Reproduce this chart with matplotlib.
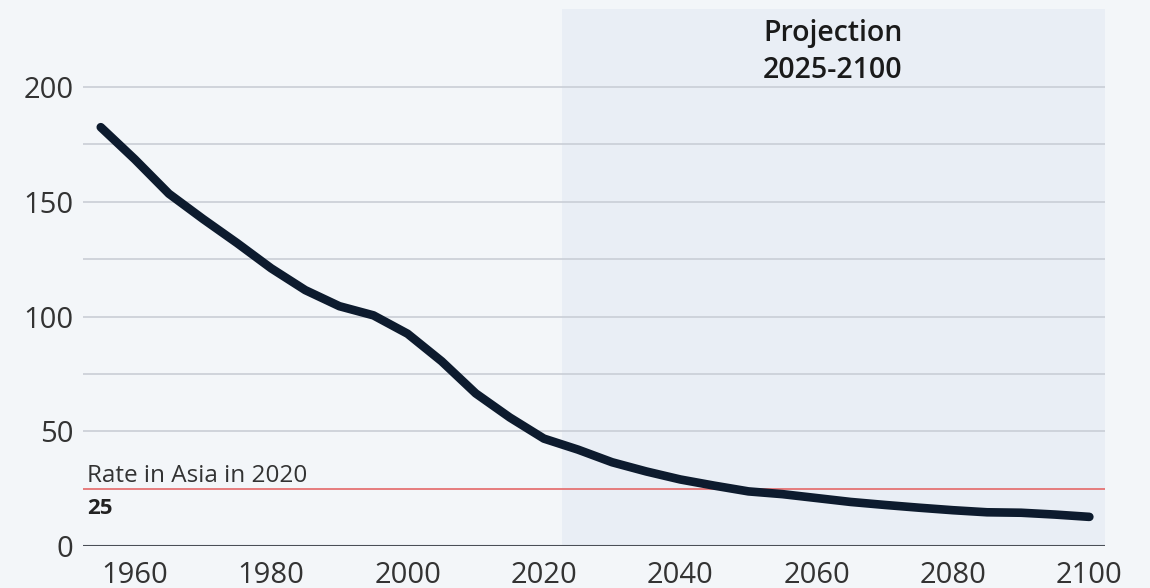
import matplotlib
matplotlib.use("Agg")
import matplotlib.pyplot as plt

years = [1955, 1960, 1965, 1970, 1975, 1980, 1985, 1990, 1995, 2000, 2005, 2010, 2015, 2020,
         2025, 2030, 2035, 2040, 2045, 2050, 2055, 2060, 2065, 2070, 2075, 2080, 2085, 2090, 2095, 2100]
rate = [182.5, 168.5, 153.5, 142.5, 132, 121, 111.5, 104.5, 100.5, 92.5, 80.5, 66.5, 56, 46.8,
        42, 36.5, 32.5, 29, 26.3, 23.8, 22.6, 20.9, 19.2, 17.9, 16.7, 15.6, 14.7, 14.5, 13.7, 12.7]
ref_value = 25
ref_label = "Rate in Asia in 2020"
proj_start = 2022.7
x_ticks = [1960, 1980, 2000, 2020, 2040, 2060, 2080, 2100]
y_ticks = [0, 50, 100, 150, 200]

plt.rcParams['font.family'] = ['Open Sans', 'DejaVu Sans']

bg = '#f3f6f9'
fig = plt.figure(figsize=(11.5, 5.88), dpi=100, facecolor=bg)
ax = fig.add_axes([0.0722, 0.0714, 0.8887, 0.9133], facecolor=bg)
x0, x1 = 1952.4, 2102.3
ax.set_xlim(x0, x1)
ax.set_ylim(0, 234)

ax.axvspan(proj_start, x1, color='#e9eef5', zorder=0, lw=0)
for g in [50, 75, 100, 125, 150, 175, 200]:
    ax.axhline(g, color='#c9ced6', lw=1.2, zorder=1)
ax.axhline(0, color='#4a4f57', lw=1.5, zorder=2)
ax.axhline(ref_value, color='#e57373', lw=1.3, zorder=2)

ax.plot(years, rate, color='#0d1b2e', lw=6.2, solid_capstyle='round', solid_joinstyle='round', zorder=3)

ax.text(1953.0, ref_value + 3, ref_label, fontsize=17.5, color='#333333', va='baseline', ha='left')
ax.text(1953.0, ref_value - 4, str(ref_value), fontsize=16, color='#222222', fontweight='bold',
        va='top', ha='left')

ax.text(2062.4, 229.5, "Projection\n2025-2100", fontsize=20.5, fontweight='semibold', color='#1a1a1a',
        ha='center', va='top', linespacing=1.35)

ax.set_xticks(x_ticks)
ax.set_xticklabels([str(t) for t in x_ticks])
ax.set_yticks(y_ticks)
ax.set_yticklabels([str(t) for t in y_ticks])
ax.tick_params(axis='both', length=0, labelsize=21, labelcolor='#333333')
ax.tick_params(axis='x', pad=10.5)
ax.tick_params(axis='y', pad=7)
for s in ax.spines.values():
    s.set_visible(False)

fig.savefig('out.png', dpi=100, facecolor=bg)
